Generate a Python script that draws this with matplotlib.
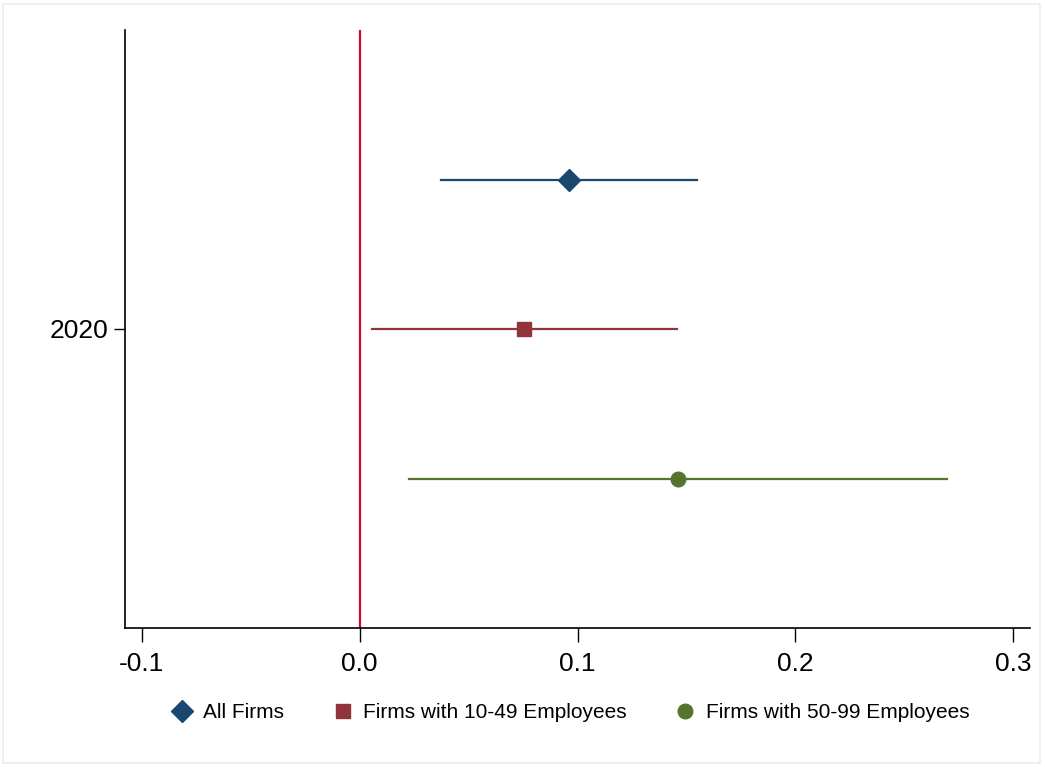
import numpy as np
import matplotlib.pyplot as plt
from matplotlib.lines import Line2D
from matplotlib.patches import Rectangle

labels = ['All Firms', 'Firms with 10-49 Employees', 'Firms with 50-99 Employees']
coef = [0.096, 0.0753, 0.146]
ci_low = [0.0372, 0.0055, 0.0225]
ci_high = [0.155, 0.1456, 0.2696]
offsets = [0.5, 0.0, -0.5]
colors = ['#1a476f', '#90353b', '#55752f']
markers = ['D', 's', 'o']
msizes = [11, 10.5, 10.5]
year_label = '2020'
xticks = [-0.1, 0.0, 0.1, 0.2, 0.3]

plt.rcParams['font.family'] = ['Liberation Sans', 'DejaVu Sans']

fig = plt.figure(figsize=(10.45, 7.67), dpi=100)
fig.patches.append(Rectangle((0.003, 0.005), 0.992, 0.99, transform=fig.transFigure,
                             fill=False, edgecolor='#e6eff1', linewidth=1.2))
ax = fig.add_axes([125/1045, 1-628/767, (1030-125)/1045, (628-30)/767])

ax.axvline(0, color='#c8102e', linewidth=1.6, zorder=1)
handles = []
for i in range(3):
    ax.plot([ci_low[i], ci_high[i]], [offsets[i], offsets[i]], color=colors[i], linewidth=1.6, zorder=2)
    ax.plot(coef[i], offsets[i], marker=markers[i], color=colors[i], markersize=msizes[i],
            linestyle='none', zorder=3)
    handles.append(Line2D([], [], marker=markers[i], color=colors[i], linestyle='none',
                          markersize=msizes[i], label=labels[i]))

ax.set_xlim(-0.1078, 0.3078)
ax.set_ylim(-1, 1)
ax.set_xticks(xticks)
ax.set_xticklabels(['%.1f' % t for t in xticks], fontsize=19)
ax.set_yticks([0])
ax.set_yticklabels([year_label], fontsize=19)
ax.tick_params(axis='x', length=10, width=1, pad=7)
ax.tick_params(axis='y', length=8, width=1, pad=4)
ax.spines['top'].set_visible(False)
ax.spines['right'].set_visible(False)
for s in ['left', 'bottom']:
    ax.spines[s].set_linewidth(1.2)

fig.legend(handles=handles, loc='center', bbox_to_anchor=(572/1045, 1-713/767), ncol=3,
           frameon=False, fontsize=15, handlelength=0.8, handletextpad=0.6, columnspacing=2.4)

fig.savefig('out.png', dpi=100)
